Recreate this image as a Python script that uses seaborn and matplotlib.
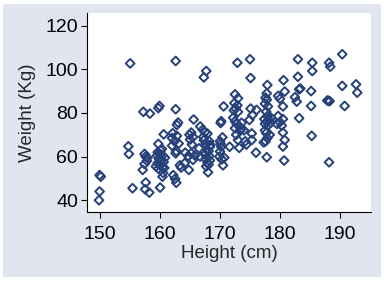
import matplotlib
matplotlib.use("Agg")
import matplotlib.pyplot as plt
import seaborn as sns
import pandas as pd
from matplotlib.patches import Rectangle

heights = [
    149.9, 150.1, 149.9, 149.8,
    155.0, 154.7, 154.8, 155.4,
    157.2, 158.3, 157.4, 157.6, 157.9, 157.1, 157.4, 157.6, 157.5, 158.2, 157.8,
    159.9, 159.7, 159.7, 160.6, 160.4, 160.0, 160.5,
    159.6, 160.1, 160.4, 159.8, 160.2, 160.6, 159.6, 160.0, 160.4, 159.7, 160.8, 160.3, 159.5, 160.7, 160.1, 159.3,
    162.6, 162.6, 162.1, 162.0, 162.4, 162.0, 163.0, 162.8, 163.1, 162.7, 162.6, 163.3, 162.2, 162.5, 162.7, 162.8, 163.5,
    165.6, 165.2, 164.9, 165.3, 165.0, 165.2, 164.7, 164.2, 164.1, 164.8, 165.8, 165.5, 165.5,
    167.3, 167.7, 166.7, 167.1, 167.5, 167.9, 167.2, 168.2, 167.6, 168.3, 167.8, 168.1, 167.5, 168.2, 167.6, 168.3,
    167.9, 168.1, 167.7, 168.0, 166.7, 166.5, 167.3, 168.4,
    170.2, 170.1, 170.6, 170.0, 170.2, 170.0, 169.9, 170.4, 170.5, 170.7, 170.3, 171.6, 170.1,
    172.4, 172.9, 172.6, 173.0, 172.3, 172.9, 173.0, 172.5, 172.8, 173.2, 172.5, 173.5, 174.0, 173.3, 172.7, 173.0,
    173.2, 172.5, 172.2, 173.6, 174.2,
    175.0, 175.1, 175.1, 174.9, 175.3, 175.3, 176.0, 176.1, 175.4, 174.4,
    177.9, 177.8, 177.6, 177.8, 177.5, 178.0, 177.7, 177.9, 177.4, 178.2, 177.8, 178.4, 177.5, 178.1, 177.5, 177.7,
    178.3, 177.9, 177.6, 177.8, 178.5, 177.3,
    179.7, 180.0, 180.6, 180.8, 180.5, 179.7, 180.0, 180.3, 180.5, 179.5, 180.5, 180.8, 180.5, 180.7,
    182.5, 183.0, 183.0, 183.2, 183.4, 182.8, 183.2,
    185.2, 185.4, 185.4, 185.2, 185.3,
    188.2, 188.4, 188.1, 188.3, 187.9, 188.2,
    190.4, 190.4, 190.8, 192.7, 192.9,
]
weights = [
    51.5, 50.8, 44.0, 40.0,
    102.7, 64.7, 61.2, 45.5,
    80.5, 79.7, 61.2, 60.0, 59.5, 53.9, 56.6, 48.1, 45.0, 43.5, 58.0,
    83.2, 82.2, 65.8, 70.2, 50.8, 45.8, 52.5,
    62.0, 61.0, 60.5, 59.0, 58.5, 57.5, 57.0, 56.0, 55.2, 54.5, 59.5, 63.5, 60.5, 54.8, 62.8, 55.5,
    81.7, 103.8, 70.7, 68.5, 67.0, 65.0, 75.6, 74.5, 66.0, 62.5, 61.5, 56.0, 51.5, 49.8, 48.0, 69.5, 55.0,
    77.0, 71.0, 70.0, 65.5, 67.8, 61.5, 60.2, 61.8, 57.0, 53.9, 60.5, 58.5, 69.0,
    96.3, 99.2, 73.8, 72.3, 71.2, 70.5, 69.0, 67.0, 65.8, 64.5, 63.2, 62.5, 61.0, 60.3, 59.0, 58.2,
    57.3, 56.3, 55.5, 52.8, 60.0, 63.8, 67.5, 65.3,
    76.2, 75.4, 83.0, 67.0, 64.5, 62.3, 60.0, 68.8, 56.0, 59.5, 58.7, 64.5, 65.8,
    84.5, 83.5, 82.0, 80.5, 81.2, 103.0, 86.7, 76.2, 75.0, 74.0, 73.0, 72.5, 72.0, 71.8, 70.0, 67.6,
    64.0, 88.5, 77.8, 75.5, 67.0,
    104.6, 96.0, 82.0, 76.8, 70.6, 67.6, 61.8, 81.4, 79.0, 65.5,
    92.8, 89.0, 87.0, 86.0, 84.2, 83.0, 80.6, 78.5, 77.2, 76.8, 76.0, 75.5, 75.0, 74.5, 72.0, 70.8,
    70.0, 68.5, 67.0, 59.7, 77.8, 66.5,
    87.8, 86.5, 95.0, 89.8, 83.0, 78.6, 75.8, 74.2, 77.2, 75.0, 71.0, 67.6, 64.6, 58.2,
    87.2, 104.6, 96.6, 90.8, 91.2, 85.2, 77.6,
    90.0, 103.0, 99.2, 83.2, 69.5,
    103.0, 101.2, 85.6, 85.4, 85.7, 57.4,
    106.9, 92.4, 83.2, 93.1, 89.3,
]
x_ticks = [150, 160, 170, 180, 190]
y_ticks = [40, 60, 80, 100, 120]
x_label = "Height (cm)"
y_label = "Weight (Kg)"

df = pd.DataFrame({"height": heights, "weight": weights})

sns.set_style("white")
plt.rcParams["font.family"] = ["Liberation Sans", "DejaVu Sans"]

navy = "#26407a"
bg = "#e1e5f0"

fig = plt.figure(figsize=(3.84, 2.81), dpi=100, facecolor="white")
fig.patches.append(Rectangle((3 / 384, 4 / 281), 378 / 384, 273 / 281,
                             transform=fig.transFigure, facecolor=bg,
                             edgecolor="none", zorder=-5))
ax = fig.add_axes([87 / 384, 1 - 212 / 281, 284 / 384, 199 / 281])
ax.set_zorder(5)
ax.set_facecolor("white")

sns.scatterplot(data=df, x="height", y="weight", ax=ax, marker="D", s=20,
                facecolor="none", edgecolor=navy, linewidth=1.4,
                legend=False, zorder=3)

ax.set_xlim(147.8, 195.2)
ax.set_ylim(34.6, 125.8)
ax.set_xticks(x_ticks)
ax.set_yticks(y_ticks)
ax.tick_params(axis="both", direction="out", length=4.5, width=0.8,
               colors="black", labelsize=14, left=True, bottom=True)
ax.tick_params(axis="x", pad=5.5)
ax.tick_params(axis="y", pad=2)
ax.set_xlabel(x_label, fontsize=13.5, labelpad=1.5)
ax.set_ylabel(y_label, fontsize=13.5, labelpad=7)
for side in ["top", "right"]:
    ax.spines[side].set_visible(False)
for side in ["left", "bottom"]:
    ax.spines[side].set_color("black")
    ax.spines[side].set_linewidth(0.8)

fig.savefig("out.png", dpi=100, facecolor="white")
